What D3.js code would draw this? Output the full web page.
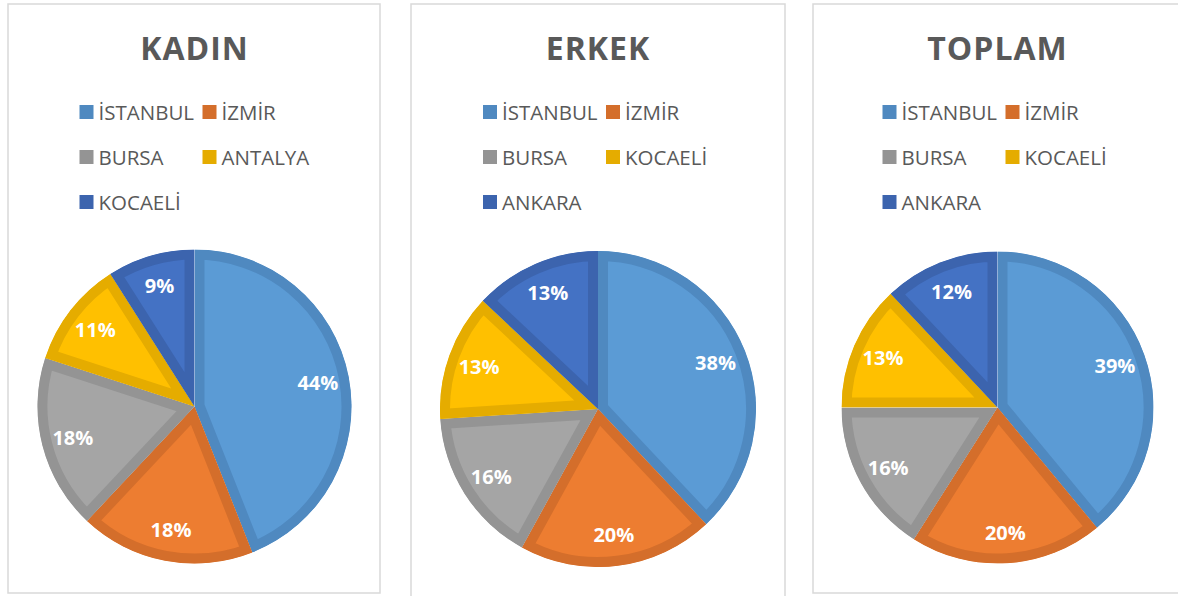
<!DOCTYPE html>
<html>
<head>
<meta charset="utf-8">
<script src="https://cdn.jsdelivr.net/npm/d3@7"></script>
<style>
  body { margin: 0; background: #fff; }
  text { font-family: "Open Sans", "Liberation Sans", sans-serif; }
</style>
</head>
<body>
<script>
// chart data
var titles = ["KADIN", "ERKEK", "TOPLAM"];
var kadinCities = ["İSTANBUL", "İZMİR", "BURSA", "ANTALYA", "KOCAELİ"];
var kadinValues = [44, 18, 18, 11, 9];
var erkekCities = ["İSTANBUL", "İZMİR", "BURSA", "KOCAELİ", "ANKARA"];
var erkekValues = [38, 20, 16, 13, 13];
var toplamCities = ["İSTANBUL", "İZMİR", "BURSA", "KOCAELİ", "ANKARA"];
var toplamValues = [39, 20, 16, 13, 12];

// slice colours by position (fill, darker inner border)
var fills = ["#5B9BD5", "#ED7D31", "#A5A5A5", "#FFC000", "#4472C4"];
var edges = ["#4F89C0", "#D46E2B", "#949494", "#E5AC00", "#3C64AE"];

var width = 1178, height = 596;

var svg = d3.select("body").append("svg")
    .attr("width", width)
    .attr("height", height);

var panels = [
    { title: titles[0], cities: kadinCities, values: kadinValues, x0: 8, x1: 380, y1: 593, cx: 194.5, cy: 406.5, r: 157 },
    { title: titles[1], cities: erkekCities, values: erkekValues, x0: 411, x1: 785, y1: 610, cx: 598, cy: 409, r: 158 },
    { title: titles[2], cities: toplamCities, values: toplamValues, x0: 813, x1: 1186, y1: 593, cx: 997.5, cy: 407.5, r: 156 }
];

var pie = d3.pie().sort(null).value(function (d) { return d; });

panels.forEach(function (p, pi) {
    // card
    svg.append("rect")
        .attr("x", p.x0).attr("y", 4)
        .attr("width", p.x1 - p.x0).attr("height", p.y1 - 4)
        .attr("fill", "#fff")
        .attr("stroke", "#D9D9D9")
        .attr("stroke-width", 1.5);

    var g = svg.append("g").attr("transform", "translate(" + p.cx + ",0)");

    // title
    g.append("text")
        .attr("x", 0).attr("y", 60)
        .attr("text-anchor", "middle")
        .attr("font-size", 32)
        .attr("font-weight", "bold")
        .attr("letter-spacing", 1)
        .attr("fill", "#595959")
        .text(p.title);

    // legend, two columns
    var colX = [-115, 8];
    var rowY = [112, 157, 202];
    p.cities.forEach(function (c, i) {
        var lx = colX[i % 2], ly = rowY[Math.floor(i / 2)];
        g.append("rect")
            .attr("x", lx).attr("y", ly - 7)
            .attr("width", 14).attr("height", 14)
            .attr("fill", edges[i]);
        g.append("text")
            .attr("x", lx + 19).attr("y", ly)
            .attr("dominant-baseline", "central")
            .attr("font-size", 20.5)
            .attr("fill", "#595959")
            .text(c);
    });

    // pie
    var arc = d3.arc().innerRadius(0).outerRadius(p.r);
    var pg = svg.append("g").attr("transform", "translate(" + p.cx + "," + p.cy + ")");
    var arcs = pie(p.values);

    var defs = svg.append("defs");
    arcs.forEach(function (a, i) {
        defs.append("clipPath").attr("id", "clip" + pi + "_" + i)
            .append("path").attr("d", arc(a));
    });

    pg.selectAll("path.slice")
        .data(arcs)
        .enter().append("path")
        .attr("class", "slice")
        .attr("d", arc)
        .attr("fill", function (d, i) { return fills[i]; })
        .attr("stroke", function (d, i) { return edges[i]; })
        .attr("stroke-width", 20)
        .attr("clip-path", function (d, i) { return "url(#clip" + pi + "_" + i + ")"; });

    var labelArc = d3.arc().innerRadius(p.r * 0.8).outerRadius(p.r * 0.8);
    pg.selectAll("text.lbl")
        .data(arcs)
        .enter().append("text")
        .attr("class", "lbl")
        .attr("transform", function (d) { return "translate(" + labelArc.centroid(d) + ")"; })
        .attr("text-anchor", "middle")
        .attr("dominant-baseline", "central")
        .attr("font-size", 20)
        .attr("font-weight", "bold")
        .attr("fill", "#fff")
        .text(function (d) { return d.value + "%"; });
});
</script>
</body>
</html>
